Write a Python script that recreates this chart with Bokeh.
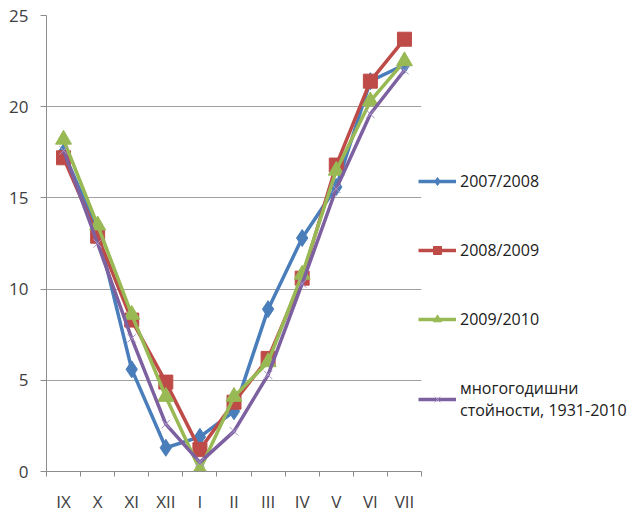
from bokeh.plotting import figure
from bokeh.models import FixedTicker, Legend, LegendItem, Range1d
from bokeh.embed import file_html
from bokeh.resources import INLINE

months = ["IX", "X", "XI", "XII", "I", "II", "III", "IV", "V", "VI", "VII"]
s_2007 = [17.5, 13.2, 5.6, 1.3, 1.9, 3.3, 8.9, 12.8, 15.6, 21.4, 22.3]
s_2008 = [17.2, 12.9, 8.3, 4.9, 1.2, 3.8, 6.2, 10.6, 16.8, 21.4, 23.7]
s_2009 = [18.2, 13.5, 8.6, 4.1, 0.1, 4.1, 6.0, 10.8, 16.5, 20.3, 22.5]
s_norm = [17.6, 12.5, 7.3, 2.6, 0.5, 2.2, 5.3, 10.3, 15.5, 19.6, 22.0]
y_ticks = [0, 5, 10, 15, 20, 25]
labels = ["2007/2008", "2008/2009", "2009/2010", "многогодишни\nстойности, 1931-2010"]

FONT = "Open Sans"
xs = [i + 0.5 for i in range(len(months))]

p = figure(frame_width=375, frame_height=456, output_backend="svg", toolbar_location=None,
           x_range=Range1d(0, len(months)), y_range=Range1d(0, 25),
           min_border_left=46, min_border_top=15, min_border_bottom=40,
           min_border_right=211)
p.outline_line_color = None
p.background_fill_color = "white"

# axes
p.xaxis.ticker = FixedTicker(ticks=xs, minor_ticks=list(range(len(months) + 1)))
p.xaxis.major_label_overrides = {x: m for x, m in zip(xs, months)}
p.xaxis.major_tick_line_color = None
p.xaxis.minor_tick_out = 5
p.xaxis.minor_tick_in = 0
p.xaxis.minor_tick_line_color = "#8c8c8c"
p.xaxis.axis_line_color = "#8c8c8c"
p.xaxis.major_label_standoff = 12
p.yaxis.ticker = FixedTicker(ticks=y_ticks)
p.yaxis.major_tick_out = 6
p.yaxis.major_tick_in = 0
p.yaxis.minor_tick_line_color = None
p.yaxis.major_tick_line_color = "#8c8c8c"
p.yaxis.axis_line_color = "#8c8c8c"
p.yaxis.major_label_standoff = 12
for ax in (p.xaxis, p.yaxis):
    ax.major_label_text_font = FONT
    ax.major_label_text_font_size = "17px"
    ax.major_label_text_color = "#404040"
p.xgrid.grid_line_color = None
p.ygrid.grid_line_color = "#a0a0a0"
p.ygrid.ticker = FixedTicker(ticks=y_ticks)

series = [
    (s_2007, "#4A7EBB", "diamond", 17, None, 1),
    (s_2008, "#BE4B48", "square", 14, None, 1),
    (s_2009, "#98B954", "triangle", 16, None, 1),
    (s_norm, "#7D60A0", "x", 12, "#A996C8", 1),
]
items = []
for (vals, col, mk, sz, mcol, mw), lab in zip(series, labels):
    ln = p.line(xs, vals, line_color=col, line_width=3.5, line_join="round")
    if mk == "x":
        sc = p.scatter(xs, vals, marker=mk, size=sz, line_color=mcol, line_width=mw,
                       fill_color=None)
    else:
        sc = p.scatter(xs, vals, marker=mk, size=sz, fill_color=col, line_color=col)
    items.append(LegendItem(label=lab, renderers=[ln, sc]))

legend = Legend(items=items, location=(-3, 50), orientation="vertical",
                spacing=47, padding=0, margin=0, glyph_width=38, glyph_height=20,
                label_standoff=4, label_text_font=FONT, label_text_font_size="16px",
                label_text_color="#202020", border_line_color=None,
                background_fill_alpha=0, label_height=20)
p.add_layout(legend, "right")

open("out.html", "w").write(file_html(p, INLINE))
